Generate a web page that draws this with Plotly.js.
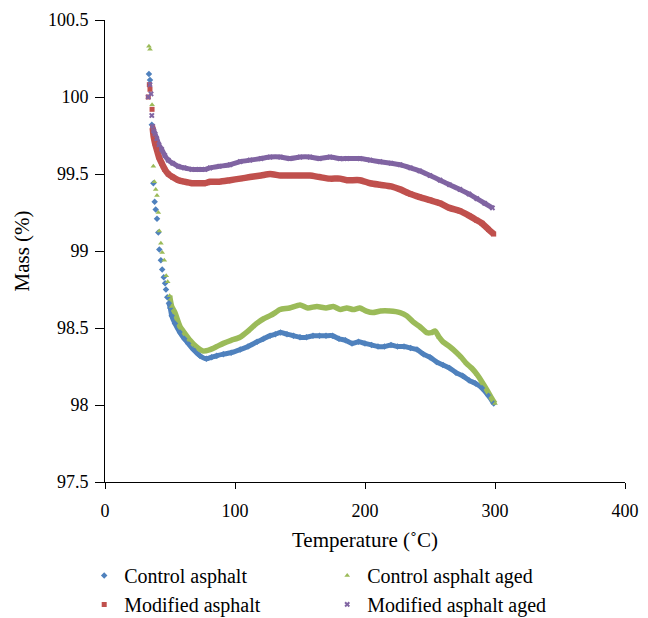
<!DOCTYPE html>
<html>
<head>
<meta charset="utf-8">
<script src="https://cdn.plot.ly/plotly-3.0.1.min.js"></script>
<style>html,body{margin:0;padding:0;background:#fff}#chart{width:648px;height:618px}</style>
</head>
<body>
<div id="chart"></div>
<script>
// Control asphalt
const ctrlT = [33.8,34.6,36.0,37.2,38.2,39.0,40.0,41.0,41.8,43.0,44.0,45.2,46.2,46.9,47.9,49.2,50.2,51.3,53.8,57.7,61,64,68,73,78,82,86,91,97,104,110,117,122,127,131,135,140,145,150,155,160,165,170,175,180,185,190,195,200,205,210,215,220,225,230,235,240,245,250,255,260,265,270,275,280,285,290,295,299];
const ctrlM = [100.15,100.11,99.82,99.44,99.32,99.27,99.21,99.12,99.01,98.94,98.88,98.83,98.79,98.75,98.70,98.66,98.63,98.58,98.53,98.47,98.43,98.40,98.36,98.32,98.30,98.31,98.32,98.33,98.34,98.36,98.38,98.41,98.43,98.45,98.46,98.47,98.46,98.45,98.44,98.44,98.45,98.45,98.45,98.45,98.43,98.42,98.40,98.41,98.40,98.39,98.38,98.38,98.39,98.38,98.38,98.37,98.36,98.33,98.31,98.28,98.26,98.24,98.21,98.19,98.16,98.14,98.11,98.06,98.01];
// Control asphalt aged
const ctrlAgedT = [33.8,34.6,36.2,37.2,38.0,39.0,40.0,41.0,41.8,43.0,44.0,45.6,47.1,48.2,49.7,51.3,53.8,57.7,61,65.4,70,75.6,80.8,86,91,97,103.8,110,116.7,122,127,131,134.6,142,150,156,163,170,175.6,181,186,191,196,201,206,212,219,227,232,237,242,247.5,251,254,257,260,265,270.5,274,278,282,286,290,293.6,297,300];
const ctrlAgedM = [100.33,100.31,99.95,99.55,99.45,99.40,99.36,99.25,99.13,99.05,98.99,98.94,98.84,98.80,98.71,98.64,98.60,98.51,98.47,98.42,98.38,98.35,98.36,98.38,98.40,98.42,98.44,98.48,98.53,98.56,98.58,98.60,98.62,98.63,98.65,98.63,98.64,98.63,98.64,98.62,98.63,98.62,98.63,98.61,98.60,98.61,98.61,98.60,98.58,98.54,98.51,98.47,98.47,98.48,98.44,98.41,98.38,98.34,98.31,98.27,98.24,98.20,98.15,98.10,98.05,98.01];
// Modified asphalt
const modT = [33.3,34.1,34.6,36.2,36.7,37.5,38.5,39.8,41.5,43.6,46,48.7,52,56.4,61,66.7,72,76.9,80.8,88,96.2,104,111.5,120,127,135,142,150,157.7,165,173,180.8,186,196,204,211.5,220,227,235,242,250,257.7,265,273,280,286,290,295,299];
const modM = [100.00,100.08,100.05,99.92,99.80,99.74,99.70,99.66,99.61,99.57,99.53,99.50,99.48,99.46,99.45,99.44,99.44,99.44,99.45,99.45,99.46,99.47,99.48,99.49,99.50,99.49,99.49,99.49,99.49,99.48,99.47,99.47,99.46,99.46,99.44,99.43,99.42,99.40,99.37,99.35,99.33,99.31,99.28,99.26,99.23,99.20,99.18,99.14,99.11];
// Modified asphalt aged
const modAgedT = [33.3,34.6,35.4,36.0,36.6,37.5,38.5,39.8,41.5,43.6,46,48.7,52,56.4,61,66.7,72,76.9,80.8,88,96.2,104,111.5,120,127,135,142,150,157.7,165,173,180.8,186,196,204,211.5,220,227,235,242,250,257.7,265,273,280,286,292,298];
const modAgedM = [100.00,100.08,100.02,99.88,99.81,99.78,99.76,99.73,99.69,99.66,99.62,99.59,99.57,99.55,99.54,99.53,99.53,99.53,99.54,99.55,99.56,99.58,99.59,99.60,99.61,99.61,99.60,99.61,99.61,99.60,99.61,99.60,99.60,99.60,99.59,99.58,99.57,99.56,99.54,99.52,99.49,99.46,99.43,99.40,99.37,99.34,99.31,99.28];

const names = ['Control asphalt','Control asphalt aged','Modified asphalt','Modified asphalt aged'];
const xTicks = [0,100,200,300,400];
const yTicks = [97.5,98,98.5,99,99.5,100,100.5];
const yTickText = ['97.5','98','98.5','99','99.5','100','100.5'];

const series = [
  {T: ctrlT, M: ctrlM, color:'#4F81BD', symbol:'diamond', size:5, start:15, lw:5},
  {T: ctrlAgedT, M: ctrlAgedM, color:'#9BBB59', symbol:'triangle-up', size:5, start:14, lw:5.5},
  {T: modT, M: modM, color:'#C0504D', symbol:'square', size:5, start:4, lw:6.5},
  {T: modAgedT, M: modAgedM, color:'#8064A2', symbol:'x', size:5, start:4, lw:5}
];

const traces = [];
series.forEach((s,i) => {
  traces.push({
    x: s.T.slice(s.start), y: s.M.slice(s.start), type:'scatter', mode:'lines',
    line:{color:s.color, width:s.lw, shape:'spline', smoothing:0.6},
    showlegend:false, legendgroup:'g'+i, hoverinfo:'skip'
  });
});
series.forEach((s,i) => {
  traces.push({
    x: s.T, y: s.M, type:'scatter', mode:'markers', name: names[i],
    marker:{color:s.color, symbol:s.symbol, size:s.size},
    legendgroup:'g'+i
  });
});

const font = 'Liberation Serif, Times New Roman, serif';
const layout = {
  width:648, height:618,
  margin:{l:105, r:23, t:20, b:136, autoexpand:false},
  paper_bgcolor:'#fff', plot_bgcolor:'#fff',
  font:{family:font, size:18, color:'#000'},
  showlegend:true,
  legend:{orientation:'h', x:-0.04, xanchor:'left', y:-0.16, yanchor:'top',
          entrywidth:198, font:{family:font, size:20, color:'#000'}, traceorder:'normal'},
  xaxis:{range:[0,400], tickvals:xTicks, ticktext:xTicks.map(String), showgrid:false, zeroline:false,
         showline:true, linecolor:'#000', linewidth:1, ticks:'outside', ticklen:6, tickcolor:'#000',
         ticklabelstandoff:6,
         tickfont:{family:font, size:18},
         title:{text:'Temperature (˚C)', font:{family:font, size:21}, standoff:12}},
  yaxis:{range:[97.5,100.5], tickvals:yTicks, ticktext:yTickText, showgrid:false, zeroline:false,
         showline:true, linecolor:'#000', linewidth:1, ticks:'outside', ticklen:9, tickcolor:'#000',
         ticklabelstandoff:3,
         tickfont:{family:font, size:18},
         title:{text:'Mass (%)', font:{family:font, size:21}, standoff:12}}
};
Plotly.newPlot('chart', traces, layout, {displayModeBar:false, staticPlot:true});
</script>
</body>
</html>
